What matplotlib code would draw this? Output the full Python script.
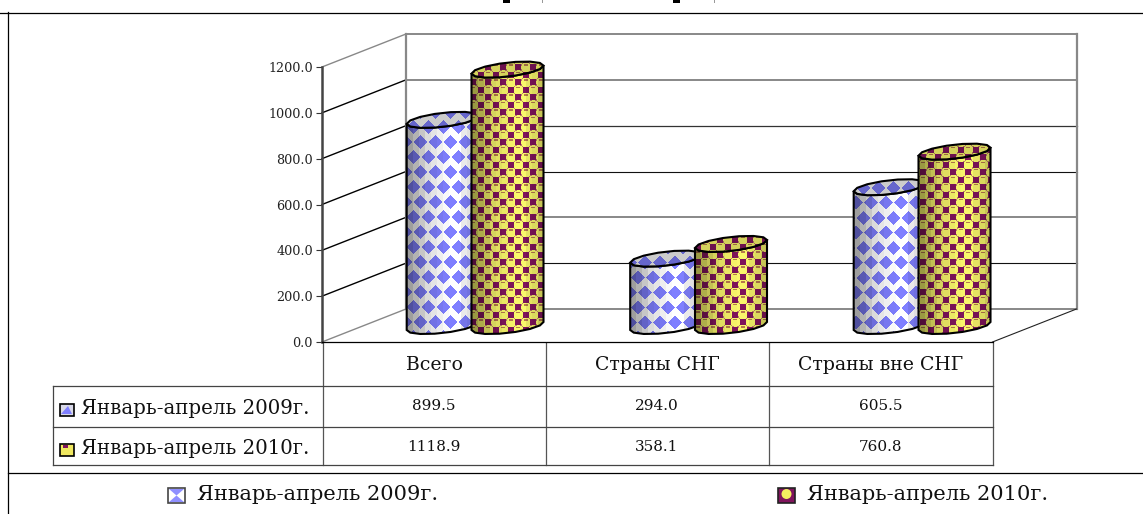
import matplotlib
matplotlib.use('Agg')
import matplotlib.pyplot as plt
import numpy as np
from matplotlib.patches import Polygon, Rectangle

categories = ['Всего', 'Страны СНГ', 'Страны вне СНГ']
series_names = ['Январь-апрель 2009г.', 'Январь-апрель 2010г.']
values_2009 = [899.5, 294.0, 605.5]
values_2010 = [1118.9, 358.1, 760.8]
y_ticks = [0, 200, 400, 600, 800, 1000, 1200]

W, H = 1143, 514
FONT = 'DejaVu Serif'

# chart plane in figure pixels
X0, X1, Y0, Y1 = 322, 992.5, 342, 67
px_x = 3 / (X1 - X0)
px_y = 1200 / (Y0 - Y1)
depth_x = 84 * px_x
depth_y = 33 * px_y
base_y = 16 * px_y


def blue_texture(xs, ys, shade):
    # staggered rows of blue diamonds
    d = np.abs((xs % 15) - 7.5) + np.abs((ys % 30) - 7.5)
    d2 = np.abs(((xs + 7.5) % 15) - 7.5) + np.abs(((ys + 15) % 30) - 7.5)
    img = np.ones(xs.shape + (3,))
    img[(d < 7) | (d2 < 7)] = (0.5, 0.5, 1.0)
    return img * shade[..., None]


def yellow_texture(xs, ys, shade):
    img = np.ones(xs.shape + (3,)) * np.array((0.80, 0.74, 0.38))
    cx = (xs % 15) - 7.5
    cy = (ys % 15) - 7.5
    cx2 = ((xs + 7.5) % 15) - 7.5
    cy2 = ((ys + 7.5) % 15) - 7.5
    # circles centred between the squares
    r = np.hypot(cx2, cy)
    r2 = np.hypot(cx, cy2)
    img[(r < 6) | (r2 < 6)] = (0.74, 0.50, 0.40)
    img[(r < 4.8) | (r2 < 4.8)] = (0.98, 0.97, 0.42)
    dash = ((np.abs(cx2) < 2) & (np.abs(cy + 2.5) < 0.6)) | ((np.abs(cx) < 2) & (np.abs(cy2 + 2.5) < 0.6))
    img[dash] = (0.72, 0.48, 0.30)
    sq = ((np.abs(cx) < 3) & (np.abs(cy) < 3)) | ((np.abs(cx2) < 3) & (np.abs(cy2) < 3))
    img[sq] = (0.50, 0.08, 0.36)
    return img * shade[..., None]


def band_shade(u):
    # faceted lighting across the cylinder
    bands = np.array([0.62, 0.70, 0.78, 0.86, 0.90, 0.94, 0.98, 1.0, 1.0, 0.92, 0.88, 0.80])
    return bands[np.clip((u * len(bands)).astype(int), 0, len(bands) - 1)]


def ellipse(cx, cy, a=36, b=7, s=4, n=14):
    # sheared low-poly ellipse, offsets in pixels converted to data units
    t = np.linspace(0, 2 * np.pi, n, endpoint=False)
    return np.column_stack([cx + a * np.cos(t) * px_x,
                            cy + (b * np.sin(t) + s * np.cos(t)) * px_y])


def draw_cylinder(ax, cx, value, texture, cap_shade, z):
    top_y = value + base_y
    top = ellipse(cx, top_y)
    bottom = ellipse(cx, base_y)
    n = len(top)
    front_base = np.array([bottom[(n // 2 + k) % n] for k in range(n // 2 + 1)])
    front_top = np.array([top[(n // 2 + k) % n] for k in range(n // 2 + 1)])
    body = np.vstack([front_base, front_top[::-1]])

    # pixel grid covering the cylinder
    left = X0 + (cx / px_x) - 37
    right = left + 74
    top_px = Y0 - (top_y / px_y) - 10
    bot_px = Y0 - 5
    xs, ys = np.meshgrid(np.arange(left, right), np.arange(top_px, bot_px))
    shade = band_shade((xs - left - 1) / 72)
    extent = [(left - X0) * px_x, (right - X0) * px_x,
              (Y0 - bot_px) * px_y, (Y0 - top_px) * px_y]

    im = ax.imshow(texture(xs, ys, shade), extent=extent, origin='upper',
                   interpolation='nearest', aspect='auto', zorder=z)
    im.set_clip_box(fig.bbox)
    im.set_clip_path(Polygon(body, closed=True, transform=ax.transData))
    ax.add_patch(Polygon(body, closed=True, fill=False, ec='black', lw=1.5, zorder=z + 0.1, clip_on=False))

    cap = ax.imshow(texture(xs, ys, np.full(xs.shape, cap_shade)), extent=extent, origin='upper',
                    interpolation='nearest', aspect='auto', zorder=z + 0.2)
    cap.set_clip_box(fig.bbox)
    cap.set_clip_path(Polygon(top, closed=True, transform=ax.transData))
    ax.add_patch(Polygon(top, closed=True, fill=False, ec='black', lw=1.5, zorder=z + 0.3, clip_on=False))


fig = plt.figure(figsize=(W / 100, H / 100), dpi=100)
page = fig.add_axes([0, 0, 1, 1])
page.set_xlim(0, W)
page.set_ylim(H, 0)
page.axis('off')

# page frame
page.plot([0, W], [12.5, 12.5], color='black', lw=0.9)
page.plot([7.5, 7.5], [12, H], color='black', lw=0.9)
page.plot([7.5, W], [472.5, 472.5], color='black', lw=0.9)

# clipped title crumbs at the very top
for x, w, c in [(503, 7, 'black'), (673, 7, 'black'), (542, 1, '#999999'), (714, 1, '#999999')]:
    page.add_patch(Rectangle((x, 0), w, 2.5, fc=c, ec='none'))

# data table
col_x = [322.5, 545.5, 768.5, 992.5]
row_y = [342.5, 385.5, 426.5, 464.5]
for x in col_x:
    page.plot([x, x], [row_y[0], row_y[-1]], color='#555555', lw=0.9)
for y in row_y[1:]:
    page.plot([53, col_x[-1]], [y, y], color='#444444', lw=0.9)
page.plot([53, 53], [row_y[1], row_y[-1]], color='#444444', lw=0.9)

for i, name in enumerate(categories):
    mid = (col_x[i] + col_x[i + 1]) / 2
    page.text(mid, 365, name, ha='center', va='center', family=FONT, fontsize=13.6, color='#111111')
    page.text(mid, 406, f'{values_2009[i]:.1f}', ha='center', va='center', family=FONT, fontsize=11, color='#111111')
    page.text(mid, 447, f'{values_2010[i]:.1f}', ha='center', va='center', family=FONT, fontsize=11, color='#111111')

for y, name in zip([409, 449], series_names):
    page.text(81, y, name, ha='left', va='center', family=FONT, fontsize=14.2, color='#111111')

# table key swatches
page.add_patch(Rectangle((59.5, 403.5), 14, 12, fc='#d8d8e8', ec='black', lw=1.2))
page.add_patch(Polygon([(61, 414), (72, 414), (68, 406)], fc='#7f7fff', ec='none'))
page.add_patch(Rectangle((59.5, 443.5), 14, 12, fc='#f0e860', ec='black', lw=1.2))
page.add_patch(Rectangle((63, 445), 5, 2.5, fc='#80145c', ec='none'))

# bottom legend
page.add_patch(Rectangle((168, 488), 17, 15, fc='white', ec='#444444', lw=1.2))
page.add_patch(Polygon([(169, 489), (184, 489), (176.5, 495.5)], fc='#8f8fff', ec='none'))
page.add_patch(Polygon([(169, 502), (184, 502), (176.5, 495.5)], fc='#8f8fff', ec='none'))
page.add_patch(Rectangle((778, 488), 17, 15, fc='#80145c', ec='#222222', lw=1.2))
page.add_patch(plt.Circle((786.5, 494), 5, fc='#f4ee60', ec='none'))
page.text(197, 495, series_names[0], ha='left', va='center', family=FONT, fontsize=15, color='#111111')
page.text(807, 495, series_names[1], ha='left', va='center', family=FONT, fontsize=15, color='#111111')

# 3d chart plane
ax = fig.add_axes([X0 / W, 1 - Y0 / H, (X1 - X0) / W, (Y0 - Y1) / H], zorder=2)
ax.patch.set_alpha(0)
ax.set_xlim(0, 3)
ax.set_ylim(0, 1200)
ax.set_xticks([])
ax.set_yticks(y_ticks)
ax.set_yticklabels([f'{v:.1f}' for v in y_ticks], family=FONT, fontsize=9.2, color='#222222')
ax.tick_params(axis='y', length=4.5, width=0.8, color='#333333', pad=2)
for side in ['top', 'right']:
    ax.spines[side].set_visible(False)
ax.spines['left'].set_color('#444444')
ax.spines['left'].set_linewidth(1.8)
ax.spines['bottom'].set_color('black')
ax.spines['bottom'].set_linewidth(0.9)

# walls and gridlines
grid_color = ['#888888', '#111111', '#888888', '#111111', '#333333', '#888888', '#888888']
grid_width = [1.4, 0.8, 1.4, 0.8, 0.9, 1.4, 1.4]
for v, c, lw in zip(y_ticks, grid_color, grid_width):
    ax.plot([depth_x, 3 + depth_x], [v + depth_y, v + depth_y], color=c, lw=lw, clip_on=False, zorder=1)
    side_c = '#888888' if v in (0, 1200) else 'black'
    ax.plot([0, depth_x], [v, v + depth_y], color=side_c, lw=1.0, clip_on=False, zorder=1)
for x in [depth_x, 3 + depth_x]:
    ax.plot([x, x], [depth_y, 1200 + depth_y], color='#888888', lw=1.6, clip_on=False, zorder=1)
ax.plot([3, 3 + depth_x], [0, depth_y], color='#222222', lw=0.8, clip_on=False, zorder=1)

for i in range(len(categories)):
    draw_cylinder(ax, i + 0.54, values_2009[i], blue_texture, 0.80, 3)
    draw_cylinder(ax, i + 0.83, values_2010[i], yellow_texture, 0.85, 4)

ax.set_xlim(0, 3)
ax.set_ylim(0, 1200)

fig.savefig('out.png', dpi=100)
